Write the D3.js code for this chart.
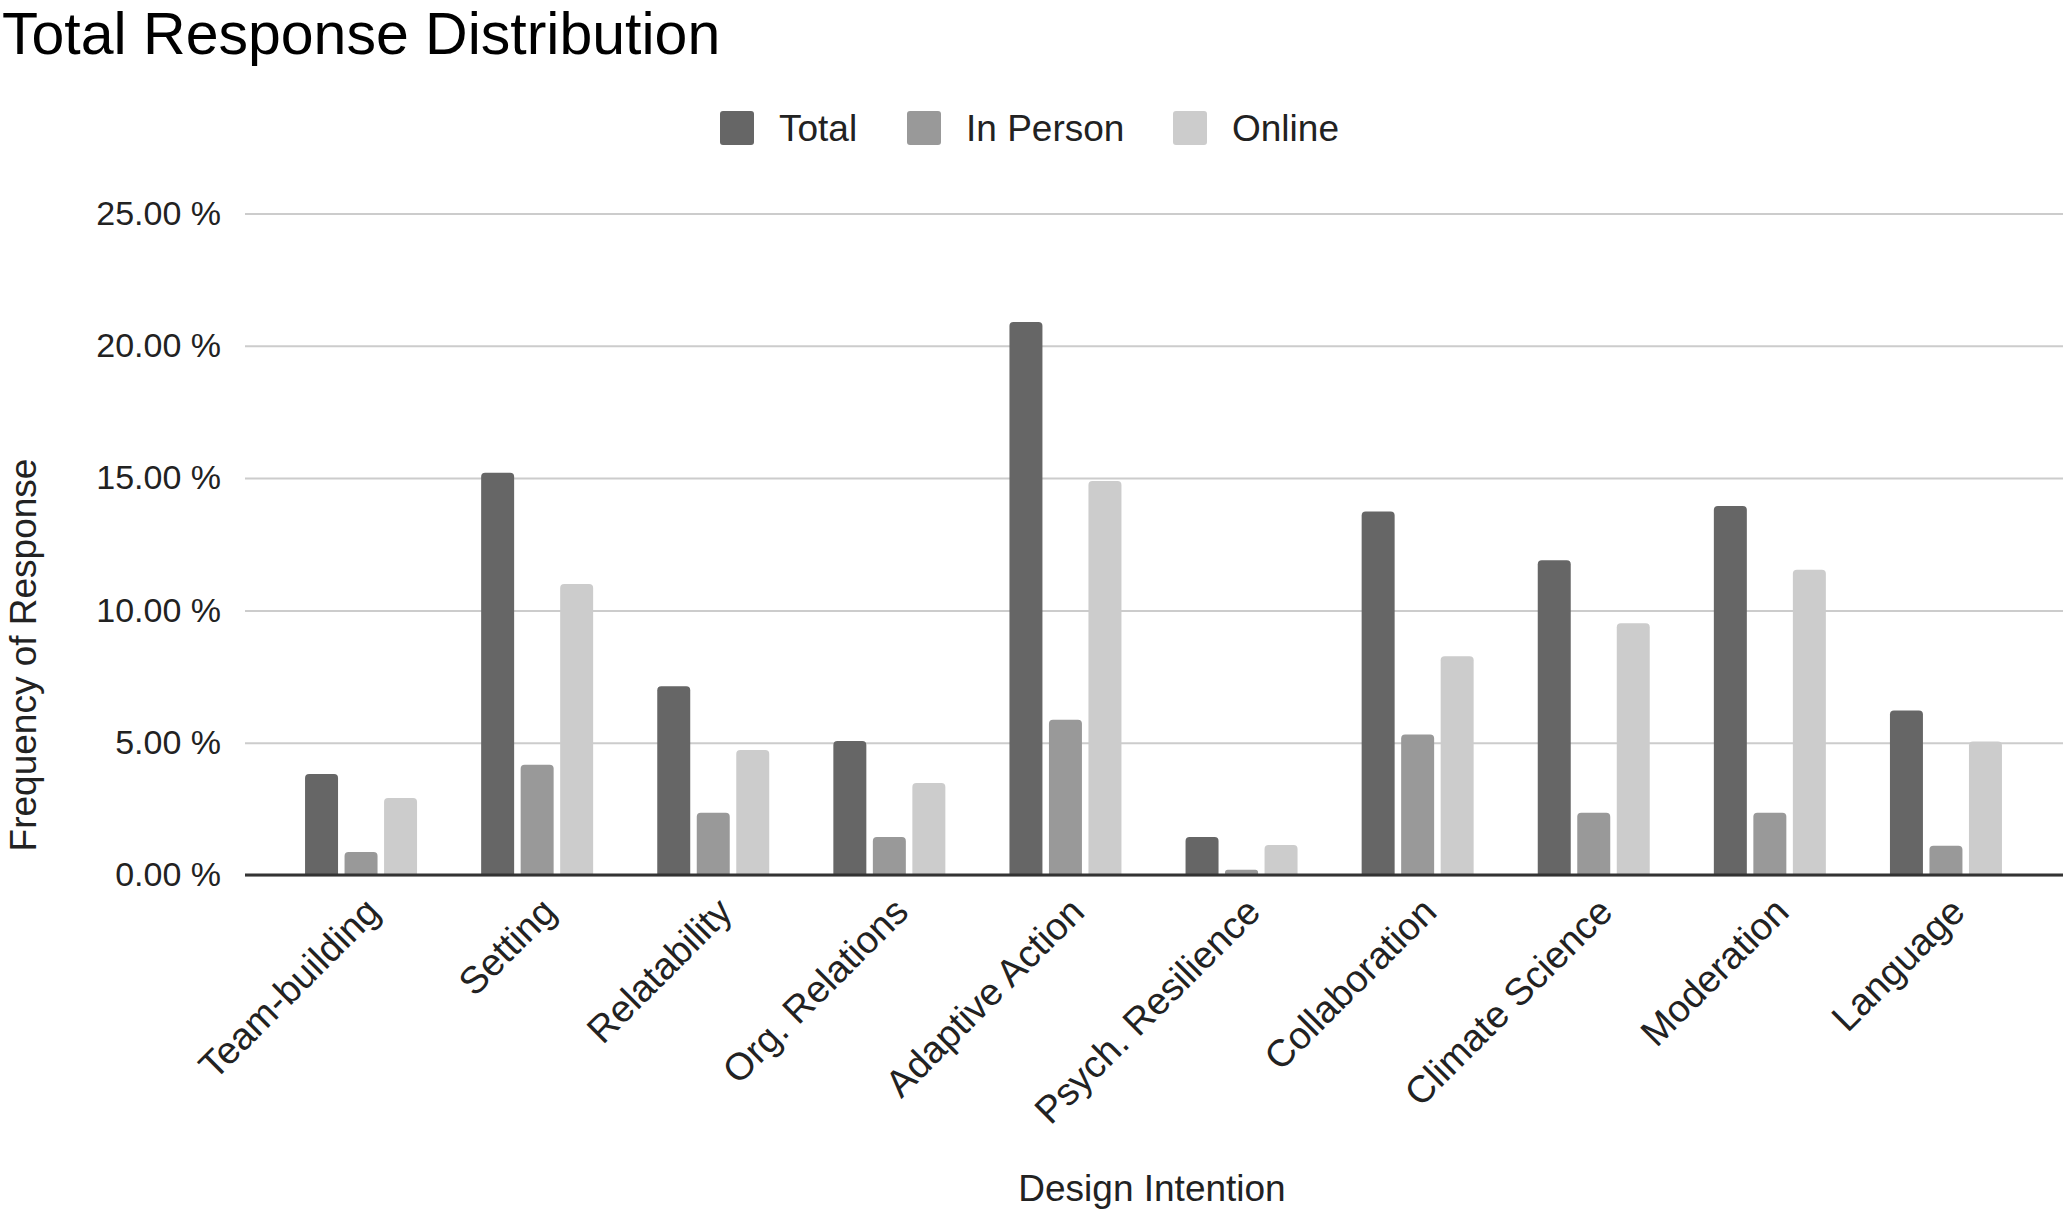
<!DOCTYPE html>
<html>
<head>
<meta charset="utf-8">
<script src="https://cdn.jsdelivr.net/npm/d3@7"></script>
<style>
  body { margin: 0; background: #fff; }
  text { font-family: "Liberation Sans", Arial, sans-serif; }
</style>
</head>
<body>
<div id="chart-container"></div>
<script>
  // Chart data (percent of responses)
  var categories = ['Team-building', 'Setting', 'Relatability', 'Org. Relations', 'Adaptive Action',
                    'Psych. Resilience', 'Collaboration', 'Climate Science', 'Moderation', 'Language'];
  var seriesNames = ['Total', 'In Person', 'Online'];
  var totalValues    = [3.82, 15.2, 7.13, 5.06, 20.9, 1.44, 13.74, 11.9, 13.95, 6.22];
  var inPersonValues = [0.87, 4.17, 2.35, 1.44, 5.87, 0.2, 5.31, 2.35, 2.35, 1.11];
  var onlineValues   = [2.91, 11.0, 4.72, 3.48, 14.89, 1.13, 8.27, 9.51, 11.54, 5.05];
  var yTicks = [0, 5, 10, 15, 20, 25];

  var colors = ['#666666', '#999999', '#cccccc'];

  generateChart();

  function generateChart() {
      var width = 2067;
      var height = 1212;

      var svg = d3.select('#chart-container')
          .append('svg')
          .attr('width', width)
          .attr('height', height);

      var series = [totalValues, inPersonValues, onlineValues];
      var rows = categories.map(function(c, i) {
          return { name: c, values: series.map(function(s) { return s[i]; }) };
      });

      // Scales
      var xScale = d3.scaleBand()
          .domain(categories)
          .range([273, 2034])
          .paddingInner(0.364)
          .paddingOuter(0.182);

      var xSub = d3.scaleBand()
          .domain(seriesNames)
          .range([0, xScale.bandwidth()])
          .paddingInner(0.165);

      var yScale = d3.scaleLinear()
          .domain([0, 25])
          .range([875, 213.5]);

      // Title
      svg.append('text')
          .attr('x', 2)
          .attr('y', 54)
          .attr('font-size', 59)
          .attr('fill', '#000')
          .text('Total Response Distribution');

      // Gridlines + y labels
      var yAxis = svg.append('g')
          .attr('transform', 'translate(245,0)')
          .call(d3.axisLeft(yScale)
              .tickValues(yTicks)
              .tickSize(-(2063 - 245))
              .tickPadding(24)
              .tickFormat(function(d) { return d.toFixed(2) + ' %'; }));
      yAxis.select('.domain').remove();
      yAxis.selectAll('.tick line')
          .attr('stroke', '#cccccc')
          .attr('stroke-width', 2);
      yAxis.selectAll('.tick text')
          .attr('font-size', 34)
          .attr('fill', '#222')
          .style('font-family', '"Liberation Sans", Arial, sans-serif');

      // Bars with rounded tops
      function barPath(x, y, w, h) {
          var r = Math.min(4, h / 2, w / 2);
          return 'M' + x + ',' + (y + h) +
              'V' + (y + r) +
              'Q' + x + ',' + y + ' ' + (x + r) + ',' + y +
              'H' + (x + w - r) +
              'Q' + (x + w) + ',' + y + ' ' + (x + w) + ',' + (y + r) +
              'V' + (y + h) + 'Z';
      }

      var groups = svg.selectAll('g.group')
          .data(rows)
          .enter()
          .append('g')
          .attr('class', 'group')
          .attr('transform', function(d) { return 'translate(' + xScale(d.name) + ',0)'; });

      groups.selectAll('path')
          .data(function(d) { return d.values.map(function(v, j) { return { key: seriesNames[j], value: v, j: j }; }); })
          .enter()
          .append('path')
          .attr('d', function(d) {
              var y = yScale(d.value);
              return barPath(xSub(d.key), y, xSub.bandwidth(), yScale(0) - y);
          })
          .attr('fill', function(d) { return colors[d.j]; });

      // Baseline (x axis)
      svg.append('line')
          .attr('x1', 245).attr('x2', 2063)
          .attr('y1', yScale(0)).attr('y2', yScale(0))
          .attr('stroke', '#333')
          .attr('stroke-width', 3);

      // Rotated category labels
      svg.selectAll('text.cat')
          .data(categories)
          .enter()
          .append('text')
          .attr('class', 'cat')
          .attr('text-anchor', 'end')
          .attr('font-size', 38)
          .attr('fill', '#222')
          .attr('transform', function(d) {
              var cx = xScale(d) + xScale.bandwidth() / 2 + 21;
              return 'translate(' + cx + ',' + (yScale(0) + 39) + ') rotate(-45)';
          })
          .text(function(d) { return d; });

      // Axis titles
      svg.append('text')
          .attr('text-anchor', 'middle')
          .attr('x', 1152)
          .attr('y', 1201)
          .attr('font-size', 37)
          .attr('fill', '#222')
          .text('Design Intention');

      svg.append('text')
          .attr('text-anchor', 'middle')
          .attr('transform', 'translate(36,655) rotate(-90)')
          .attr('font-size', 37)
          .attr('fill', '#222')
          .text('Frequency of Response');

      // Legend
      var legendX = [720, 907, 1173];
      var legend = svg.selectAll('g.legend')
          .data(seriesNames)
          .enter()
          .append('g')
          .attr('class', 'legend')
          .attr('transform', function(d, i) { return 'translate(' + legendX[i] + ',111)'; });

      legend.append('rect')
          .attr('width', 34)
          .attr('height', 34)
          .attr('rx', 3)
          .attr('fill', function(d, i) { return colors[i]; });

      legend.append('text')
          .attr('x', 59)
          .attr('y', 30)
          .attr('font-size', 37)
          .attr('fill', '#222')
          .text(function(d) { return d; });
  }
</script>
</body>
</html>
